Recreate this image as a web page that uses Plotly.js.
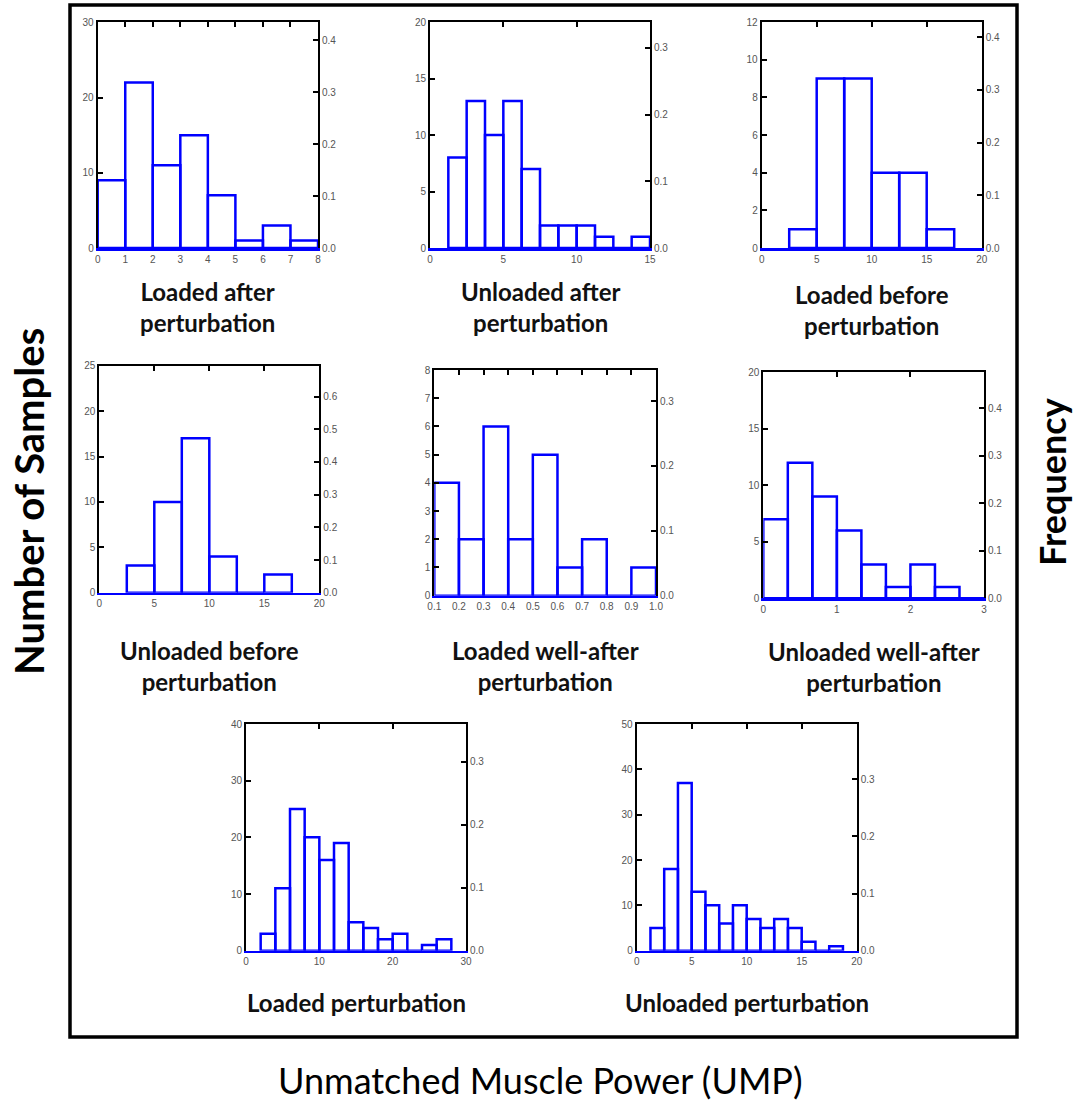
<!DOCTYPE html>
<html>
<head>
<meta charset="utf-8">
<script src="https://cdn.plot.ly/plotly-3.0.1.min.js"></script>
<style>html,body{margin:0;padding:0;background:#fff;}#chart{width:1078px;height:1101px;}</style>
</head>
<body>
<div id="chart"></div>
<script>
// ---------- DATA ----------
const panelTitles = [
  "Loaded after<br>perturbation",
  "Unloaded after<br>perturbation",
  "Loaded before<br>perturbation",
  "Unloaded before<br>perturbation",
  "Loaded well-after<br>perturbation",
  "Unloaded well-after<br>perturbation",
  "Loaded perturbation",
  "Unloaded perturbation"
];
// counts per bin
const countsLoadedAfter        = [9, 22, 11, 15, 7, 1, 3, 1];
const countsUnloadedAfter      = [8, 13, 10, 13, 7, 2, 2, 2, 1, 0, 1];
const countsLoadedBefore       = [1, 9, 9, 4, 4, 1];
const countsUnloadedBefore     = [3, 10, 17, 4, 0, 2];
const countsLoadedWellAfter    = [4, 2, 6, 2, 5, 1, 2, 0, 1];
const countsUnloadedWellAfter  = [7, 12, 9, 6, 3, 1, 3, 1, 0];
const countsLoadedPert         = [3, 11, 25, 20, 16, 19, 5, 4, 2, 3, 0, 1, 2];
const countsUnloadedPert       = [5, 18, 37, 13, 10, 6, 10, 7, 5, 7, 5, 2, 0, 1];
// left edge of first bin and bin width
const binStart = [0, 1.25, 2.5, 2.5, 0.1, 0, 2, 1.25];
const binWidth = [1, 1.25, 2.5, 2.5, 0.1, 1/3, 2, 1.25];
// axis ranges and tick steps
const xRanges  = [[0,8],[0,15],[0,20],[0,20],[0.1,1.0],[0,3],[0,30],[0,20]];
const xDticks  = [1, 5, 5, 5, 0.1, 1, 10, 5];
const yMax     = [30, 20, 12, 25, 8, 20, 40, 50];
const yDticks  = [10, 5, 2, 5, 1, 5, 10, 10];
const freqDtick = 0.1;

const allCounts = [countsLoadedAfter, countsUnloadedAfter, countsLoadedBefore, countsUnloadedBefore,
                   countsLoadedWellAfter, countsUnloadedWellAfter, countsLoadedPert, countsUnloadedPert];

// ---------- LAYOUT (pixel boxes of each panel: left, right, top, bottom) ----------
const W = 1078, H = 1101;
const boxes = [
  [97.7, 318, 22.3, 248],
  [430, 650, 22, 248],
  [761.7, 981.7, 22, 248],
  [99.3, 319.3, 365.7, 592.7],
  [434.3, 656, 370, 595.7],
  [763.3, 984, 372.3, 598.3],
  [246, 466, 724, 950.7],
  [636.7, 856.7, 724, 950.7]
];
const titleCenters = [307, 307, 310, 666, 666, 667, 1002, 1002];
const px = v => v / W;
const py = v => 1 - v / H;

const tickFont = {family: "Liberation Sans, Arial, sans-serif", size: 10, color: "#555"};
const blue = "#0000ff";

const traces = [];
const layout = {
  width: W, height: H,
  margin: {l: 0, r: 0, t: 0, b: 0},
  paper_bgcolor: "#fff", plot_bgcolor: "rgba(0,0,0,0)",
  showlegend: false,
  bargap: 0,
  annotations: [],
  shapes: []
};

for (let i = 0; i < 8; i++) {
  const n = i + 1, m = i + 9;
  const counts = allCounts[i];
  const total = counts.reduce((a, b) => a + b, 0);
  const centers = counts.map((_, k) => binStart[i] + (k + 0.5) * binWidth[i]);
  traces.push({
    type: "bar", x: centers, y: counts, width: binWidth[i],
    xaxis: "x" + n, yaxis: "y" + n,
    marker: {color: "rgba(255,255,255,0)", line: {color: blue, width: 2.5}},
    hoverinfo: "x+y"
  });
  const b = boxes[i];
  const xd = [px(b[0]), px(b[1])];
  const yd = [py(b[3]), py(b[2])];
  const xfmt = xDticks[i] < 1 ? ".1f" : "";
  layout["xaxis" + n] = {
    domain: xd, range: xRanges[i], anchor: "y" + n,
    showline: true, linecolor: blue, linewidth: 2.5,
    ticks: "", dtick: xDticks[i], tick0: xRanges[i][0], tickformat: xfmt,
    tickfont: tickFont, showgrid: false, zeroline: false, fixedrange: true
  };
  layout["xaxis" + m] = {
    overlaying: "x" + n, side: "top", anchor: "y" + n, range: xRanges[i],
    showline: true, linecolor: "#000", linewidth: 2,
    ticks: "inside", ticklen: 5, tickwidth: 2, tickcolor: "#000",
    dtick: xDticks[i], tick0: xRanges[i][0], showticklabels: false,
    showgrid: false, zeroline: false, fixedrange: true
  };
  layout["yaxis" + n] = {
    domain: yd, range: [0, yMax[i]], anchor: "x" + n,
    showline: true, linecolor: "#000", linewidth: 2,
    ticks: "inside", ticklen: 5, tickwidth: 2, tickcolor: "#000",
    dtick: yDticks[i], tickfont: tickFont,
    showgrid: false, zeroline: false, fixedrange: true
  };
  layout["yaxis" + m] = {
    overlaying: "y" + n, side: "right", anchor: "x" + n,
    range: [0, yMax[i] / total],
    showline: true, linecolor: "#000", linewidth: 2,
    ticks: "inside", ticklen: 5, tickwidth: 2, tickcolor: "#000",
    dtick: freqDtick, tickformat: ".1f", tickfont: tickFont,
    showgrid: false, zeroline: false, fixedrange: true
  };
  traces.push({type: "scatter", x: [], y: [], xaxis: "x" + m, yaxis: "y" + m, hoverinfo: "skip", showlegend: false});
  layout.annotations.push({
    xref: "paper", yref: "paper",
    x: px((b[0] + b[1]) / 2), y: py(titleCenters[i]),
    xanchor: "center", yanchor: "middle", showarrow: false,
    text: "<b>" + panelTitles[i] + "</b>",
    font: {family: "Lato, Open Sans, sans-serif", size: 24, color: "#111"}
  });
}

// Outer frame
layout.shapes.push({
  type: "rect", xref: "paper", yref: "paper",
  x0: px(70), x1: px(1017), y0: py(1037), y1: py(5),
  line: {color: "#000", width: 3.5}, fillcolor: "rgba(0,0,0,0)", layer: "below"
});

// Global axis titles
layout.annotations.push({
  xref: "paper", yref: "paper", x: px(29), y: py(502),
  xanchor: "center", yanchor: "middle", showarrow: false, textangle: -90,
  text: "<b>Number of Samples</b>",
  font: {family: "Lato, Open Sans, sans-serif", size: 40, color: "#000"}
});
layout.annotations.push({
  xref: "paper", yref: "paper", x: px(1052), y: py(482),
  xanchor: "center", yanchor: "middle", showarrow: false, textangle: -90,
  text: "<b>Frequency</b>",
  font: {family: "Lato, Open Sans, sans-serif", size: 36, color: "#000"}
});
layout.annotations.push({
  xref: "paper", yref: "paper", x: px(540), y: py(1080),
  xanchor: "center", yanchor: "middle", showarrow: false,
  text: "Unmatched Muscle Power (UMP)",
  font: {family: "Lato, Open Sans, sans-serif", size: 36, color: "#000"}
});

Plotly.newPlot("chart", traces, layout, {displayModeBar: false, staticPlot: true});
</script>
</body>
</html>
